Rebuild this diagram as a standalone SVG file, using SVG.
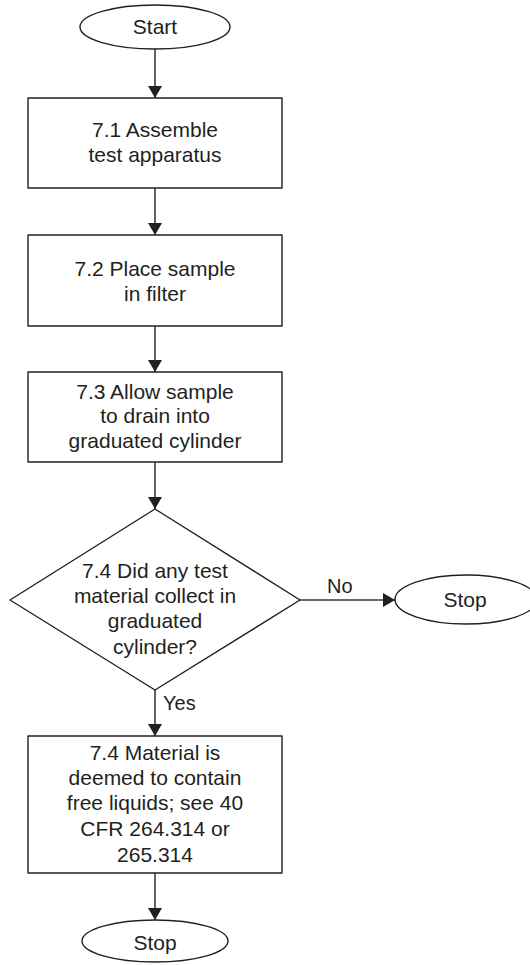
<svg xmlns="http://www.w3.org/2000/svg" width="530" height="965" viewBox="0 0 530 965">
  <style>
    .shape { fill: #ffffff; stroke: #231f20; stroke-width: 1.4; stroke-linejoin: round; }
    .edge { fill: none; stroke: #3a3a3a; stroke-width: 1.6; }
    .label { font-family: "Liberation Sans", Arial, sans-serif; font-size: 21px; fill: #231f20; text-anchor: middle; }
    .tag { font-family: "Liberation Sans", Arial, sans-serif; font-size: 20px; fill: #231f20; }
  </style>
  <defs>
    <marker id="arrow" markerUnits="userSpaceOnUse" markerWidth="14" markerHeight="14" refX="12" refY="7" orient="auto">
      <path d="M0,0 L12,7 L0,14 Z" fill="#231f20"/>
    </marker>
  </defs>

  <rect width="530" height="965" fill="#ffffff"/>

  <g id="connectors">
    <line class="edge" x1="155" y1="49" x2="155" y2="98" marker-end="url(#arrow)"/>
    <line class="edge" x1="155" y1="188" x2="155" y2="235" marker-end="url(#arrow)"/>
    <line class="edge" x1="155" y1="326" x2="155" y2="372" marker-end="url(#arrow)"/>
    <line class="edge" x1="155" y1="462" x2="155" y2="509" marker-end="url(#arrow)"/>
    <line class="edge" x1="300" y1="600" x2="395" y2="600" marker-end="url(#arrow)"/>
    <text class="tag" x="327" y="593">No</text>
    <line class="edge" x1="155" y1="690" x2="155" y2="736" marker-end="url(#arrow)"/>
    <text class="tag" x="163" y="710">Yes</text>
    <line class="edge" x1="155" y1="873" x2="155" y2="920" marker-end="url(#arrow)"/>
  </g>

  <g id="start">
    <ellipse class="shape" cx="155" cy="27" rx="75" ry="22"/>
    <text class="label" x="155" y="34">Start</text>
  </g>

  <g id="step-7-1">
    <rect class="shape" x="28" y="98" width="254" height="90"/>
    <text class="label" x="155" y="137">7.1 Assemble</text>
    <text class="label" x="155" y="162">test apparatus</text>
  </g>

  <g id="step-7-2">
    <rect class="shape" x="28" y="235" width="254" height="91"/>
    <text class="label" x="155" y="276">7.2 Place sample</text>
    <text class="label" x="155" y="301">in filter</text>
  </g>

  <g id="step-7-3">
    <rect class="shape" x="28" y="372" width="254" height="90"/>
    <text class="label" x="155" y="399">7.3 Allow sample</text>
    <text class="label" x="155" y="423">to drain into</text>
    <text class="label" x="155" y="448">graduated cylinder</text>
  </g>

  <g id="decision-7-4">
    <polygon class="shape" points="155,509 300,600 155,690 10,600"/>
    <text class="label" x="155" y="578">7.4 Did any test</text>
    <text class="label" x="155" y="603">material collect in</text>
    <text class="label" x="155" y="628">graduated</text>
    <text class="label" x="155" y="654">cylinder?</text>
  </g>

  <g id="stop-no">
    <ellipse class="shape" cx="466" cy="599.5" rx="71" ry="24.5"/>
    <text class="label" x="465" y="607">Stop</text>
  </g>

  <g id="step-7-4-result">
    <rect class="shape" x="28" y="736" width="254" height="137"/>
    <text class="label" x="155" y="760">7.4 Material is</text>
    <text class="label" x="155" y="785">deemed to contain</text>
    <text class="label" x="155" y="810">free liquids; see 40</text>
    <text class="label" x="155" y="836">CFR 264.314 or</text>
    <text class="label" x="155" y="862">265.314</text>
  </g>

  <g id="stop-yes">
    <ellipse class="shape" cx="155" cy="941" rx="73" ry="21"/>
    <text class="label" x="155" y="950">Stop</text>
  </g>
</svg>
